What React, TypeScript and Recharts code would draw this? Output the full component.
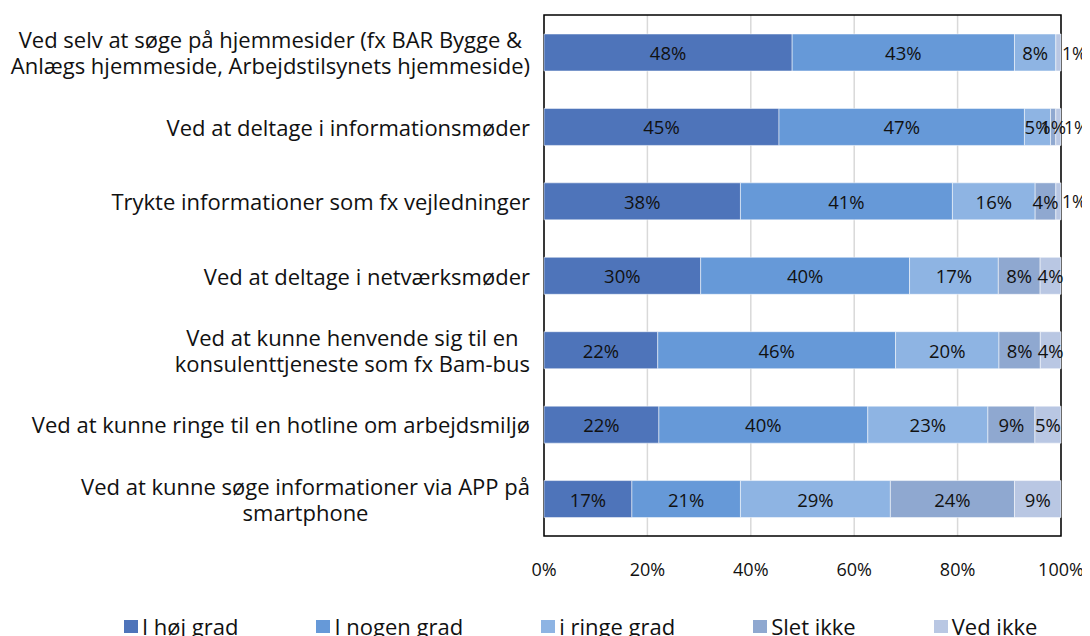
import React from "react";
import {
  BarChart,
  Bar,
  XAxis,
  YAxis,
  CartesianGrid,
  Legend,
  LabelList,
  ReferenceArea,
} from "recharts";

const categories = [
  "Ved selv at søge på hjemmesider (fx BAR Bygge &\nAnlægs hjemmeside, Arbejdstilsynets hjemmeside)",
  "Ved at deltage i informationsmøder",
  "Trykte informationer som fx vejledninger",
  "Ved at deltage i netværksmøder",
  "Ved at kunne henvende sig til en\nkonsulenttjeneste som fx Bam-bus",
  "Ved at kunne ringe til en hotline om arbejdsmiljø",
  "Ved at kunne søge informationer via APP på\nsmartphone",
];

const hoejGrad = [48, 45, 38, 30, 22, 22, 17];
const nogenGrad = [43, 47, 41, 40, 46, 40, 21];
const ringeGrad = [8, 5, 16, 17, 20, 23, 29];
const sletIkke = [0, 1, 4, 8, 8, 9, 24];
const vedIkke = [1, 1, 1, 4, 4, 5, 9];

const xTicks = [0, 0.2, 0.4, 0.6, 0.8, 1];

const series = [
  { key: "hoej", name: "I høj grad", values: hoejGrad, color: "#4E74BA" },
  { key: "nogen", name: "I nogen grad", values: nogenGrad, color: "#6699D8" },
  { key: "ringe", name: "i ringe grad", values: ringeGrad, color: "#8EB4E3" },
  { key: "slet", name: "Slet ikke", values: sletIkke, color: "#8FA8D0" },
  { key: "ved", name: "Ved ikke", values: vedIkke, color: "#B9C7E3" },
];

const rows = categories.map((name, i) => {
  const r: Record<string, any> = { name, idx: i };
  series.forEach((s) => (r[s.key] = s.values[i]));
  return r;
});

const FONT = "Open Sans";
const TEXT = "#111";

let ctx: CanvasRenderingContext2D | null = null;
function measure(t: string, size: number) {
  if (!ctx) {
    const c = document.createElement("canvas");
    ctx = c.getContext("2d");
  }
  if (!ctx) return t.length * size * 0.5;
  ctx.font = `${size}px "${FONT}"`;
  return ctx.measureText(t).width;
}

const CAT_SIZE = 22;
const LINE_H = 26;
const LABEL_SIZE = 18.5;

const CatTick = (props: any) => {
  const { x, y, payload } = props;
  const lines: string[] = String(payload.value).split("\n");
  const widths = lines.map((l) => measure(l, CAT_SIZE));
  const maxW = Math.max(...widths);
  const cx = x - maxW / 2;
  const y0 = y - ((lines.length - 1) * LINE_H) / 2;
  return (
    <g>
      {lines.map((l, i) => (
        <text
          key={i}
          x={cx}
          y={y0 + i * LINE_H}
          textAnchor="middle"
          dominantBaseline="central"
          fontFamily={FONT}
          fontSize={CAT_SIZE}
          fill={TEXT}
        >
          {l}
        </text>
      ))}
    </g>
  );
};

const makeLabel = (key: string, values: number[]) => (props: any) => {
  const { x, y, width, height, value } = props;
  const index = Number(value);
  const v = values[index];
  if (!v) return null;
  let lx = x + width / 2;
  let anchor: "middle" | "start" = "middle";
  let size = LABEL_SIZE;
  if (key === "ved" && v <= 1) {
    anchor = "start";
    const prevSmall = sletIkke[index] > 0 && sletIkke[index] <= 1;
    lx = x + width + 1 + (prevSmall ? 2 : 0);
    size = 17.5;
  }
  return (
    <text
      x={lx}
      y={y + height / 2}
      textAnchor={anchor}
      dominantBaseline="central"
      fontFamily={FONT}
      fontSize={size}
      fill={TEXT}
    >
      {v}%
    </text>
  );
};

const LegendContent = () => (
  <div
    style={{
      display: "flex",
      alignItems: "center",
      fontFamily: FONT,
      fontSize: 22,
      color: TEXT,
      whiteSpace: "nowrap",
    }}
  >
    {series.map((s) => (
      <div
        key={s.key}
        style={{ display: "flex", alignItems: "center", marginRight: 78 }}
      >
        <span
          style={{
            display: "inline-block",
            width: 14,
            height: 13,
            background: s.color,
            marginRight: 4,
          }}
        />
        <span>{s.name}</span>
      </div>
    ))}
  </div>
);

export default function App() {
  return (
    <div style={{ width: 1082, height: 628, overflow: "hidden" }}>
      <BarChart
        width={1082}
        height={640}
        data={rows}
        layout="vertical"
        stackOffset="expand"
        barSize={37}
        margin={{ top: 7, right: 29, left: 0, bottom: 72 }}
      >
        <CartesianGrid
          horizontal={false}
          stroke="#D9D9D9"
          strokeWidth={1.5}
        />
        <XAxis
          type="number"
          domain={[0, 1]}
          ticks={xTicks}
          tickFormatter={(v: number) => `${Math.round(v * 100)}%`}
          axisLine={false}
          tickLine={false}
          tickSize={6}
          tickMargin={21}
          height={40}
          tick={{
            fontFamily: FONT,
            fontSize: 18,
            fill: TEXT,
          }}
        />
        <YAxis
          type="category"
          dataKey="name"
          width={536}
          axisLine={false}
          tickLine={false}
          tickSize={0}
          tickMargin={14}
          interval={0}
          tick={<CatTick />}
        />
        {series.map((s) => (
          <Bar
            key={s.key}
            dataKey={s.key}
            name={s.name}
            stackId="a"
            fill={s.color}
            stroke="#ffffff"
            strokeOpacity={0.5}
            strokeWidth={1}
            isAnimationActive={false}
          >
            <LabelList
              dataKey={(r: any) => r.idx}
              content={makeLabel(s.key, s.values)}
            />
          </Bar>
        ))}
        <ReferenceArea
          x1={0}
          x2={1}
          fill="none"
          fillOpacity={0}
          stroke="#000"
          strokeWidth={1.5}
        />
        <Legend
          layout="horizontal"
          verticalAlign="middle"
          align="center"
          content={<LegendContent />}
          wrapperStyle={{
            position: "absolute",
            left: 116,
            top: 603,
            width: 1000,
          }}
        />
      </BarChart>
    </div>
  );
}
